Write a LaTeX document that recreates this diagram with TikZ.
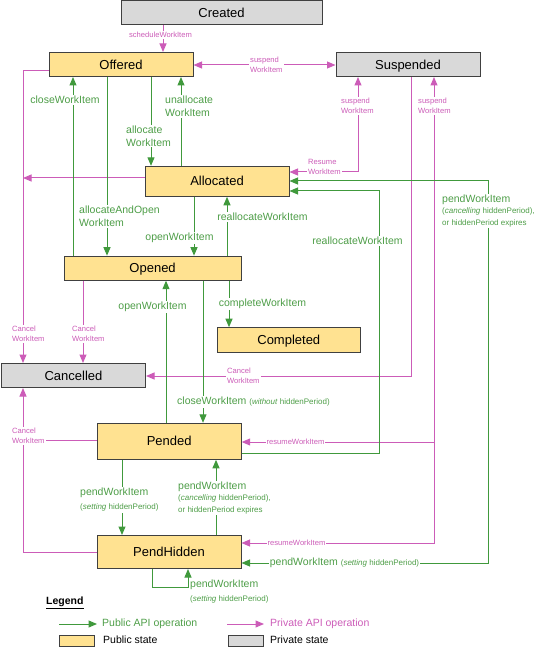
\documentclass[tikz,border=0pt]{standalone}
\usepackage{fontspec}
\setmainfont{Liberation Sans}
\usetikzlibrary{arrows.meta}
\definecolor{pubfill}{HTML}{FFE291}
\definecolor{privfill}{HTML}{D9D9D9}
\definecolor{grn}{HTML}{40993C}
\definecolor{grntxt}{HTML}{4E9E48}
\definecolor{pnk}{HTML}{CC5CB8}
\definecolor{bord}{HTML}{404040}
\begin{document}
\begin{tikzpicture}[x=1pt,y=-1pt,
  state/.style={draw=bord, line width=1pt, inner sep=0pt, text height=9.3pt, text depth=0pt, font=\fontsize{13}{15}\selectfont},
  pubstate/.style={state, fill=pubfill},
  privstate/.style={state, fill=privfill},
  tip/.tip={Triangle[length=8.5pt,width=7pt]},
  publine/.style={draw=grn, line width=1pt},
  pub/.style={publine, -tip},
  pubtwo/.style={publine, tip-tip},
  privline/.style={draw=pnk, line width=1pt},
  priv/.style={privline, -tip},
  privtwo/.style={privline, tip-tip},
  publbl/.style={text=grntxt, fill=white, inner sep=1pt, font=\fontsize{10.5}{13}\selectfont, align=left},
  privlbl/.style={text=pnk, fill=white, inner sep=1pt, font=\fontsize{7.6}{10}\selectfont, align=left}
]
\useasboundingbox (0,0) rectangle (542,652);

% states
\node[privstate, minimum width=201pt, minimum height=24pt] (created) at (221.5,13) {Created};
\node[pubstate, minimum width=144pt, minimum height=24pt] (offered) at (121,64.5) {Offered};
\node[privstate, minimum width=144pt, minimum height=24pt] (suspended) at (408,64.5) {Suspended};
\node[pubstate, minimum width=144pt, minimum height=30pt] (allocated) at (217,181.3) {Allocated};
\node[pubstate, minimum width=177pt, minimum height=24pt] (opened) at (152.6,268.2) {Opened};
\node[pubstate, minimum width=143pt, minimum height=25pt] (completed) at (288.8,340.2) {Completed};
\node[privstate, minimum width=144pt, minimum height=24pt] (cancelled) at (73.5,375.5) {Cancelled};
\node[pubstate, minimum width=144pt, minimum height=36pt] (pended) at (169.2,441.3) {Pended};
\node[pubstate, minimum width=144pt, minimum height=33pt] (pendhidden) at (169,552) {PendHidden};

% helper coordinates
\foreach \v in {23,73,83,107,122,151,152,163,166,181,188,194,203,216,227,229,358,379,411,434,488}
  \coordinate (x\v) at (\v,0);
\foreach \v in {65,71,172,178,181,191,376,440,442,453,543,552,563,587}
  \coordinate (y\v) at (0,\v);

% private (pink) connectors
\draw[priv] (created.south -| x163) -- (offered.north -| x163);
\draw[privtwo] (offered.east |- y65) -- (suspended.west |- y65);
\draw[priv] (offered.west |- y71) -- (x23 |- y71) -- (cancelled.north -| x23);
\draw[priv] (allocated.west |- y178) -- (x23 |- y178);
\draw[priv] (opened.south -| x83) -- (cancelled.north -| x83);
\draw[privtwo] (allocated.east |- y172) -- (x358 |- y172) -- (suspended.south -| x358);
\draw[privtwo] (pended.east |- y442) -- (x434 |- y442) -- (suspended.south -| x434);
\draw[priv] (x434 |- y442) -- (x434 |- y543) -- (pendhidden.east |- y543);
\draw[priv] (suspended.south -| x411) -- (x411 |- y376) -- (cancelled.east |- y376);
\draw[priv] (pendhidden.west |- y552) -- (x23 |- y552) -- (cancelled.south -| x23);
\draw[privline] (pended.west |- y440) -- (x23 |- y440);

% public (green) connectors
\draw[pub] (opened.north -| x73) -- (offered.south -| x73);
\draw[pub] (offered.south -| x107) -- (opened.north -| x107);
\draw[pub] (offered.south -| x151) -- (allocated.north -| x151);
\draw[pub] (allocated.north -| x181) -- (offered.south -| x181);
\draw[pub] (allocated.south -| x194) -- (opened.north -| x194);
\draw[pub] (opened.north -| x227) -- (allocated.south -| x227);
\draw[pub] (opened.south -| x229) -- (completed.north -| x229);
\draw[pub] (pended.north -| x166) -- (opened.south -| x166);
\draw[pub] (opened.south -| x203) -- (pended.north -| x203);
\draw[pub] (pended.east |- y453) -- (x379 |- y453) -- (x379 |- y191) -- (allocated.east |- y191);
\draw[pubtwo] (allocated.east |- y181) -- (x488 |- y181) -- (x488 |- y563) -- (pendhidden.east |- y563);
\draw[pub] (pended.south -| x122) -- (pendhidden.north -| x122);
\draw[pub] (pendhidden.north -| x216) -- (pended.south -| x216);
\draw[pub] (pendhidden.south -| x152) -- (x152 |- y587) -- (x188 |- y587) -- (pendhidden.south -| x188);

% private labels
\node[privlbl] (lsched) at (160.5,35) {scheduleWorkItem};
\node[privlbl, anchor=west] (lsusp1) at (249,65) {suspend\\WorkItem};
\node[privlbl, anchor=west] (lsusp2) at (340,106) {suspend\\WorkItem};
\node[privlbl, anchor=west] (lres) at (307,167) {Resume\\WorkItem};
\node[privlbl, anchor=west] (lsusp3) at (417,106) {suspend\\WorkItem};
\node[privlbl, anchor=west] (lcan1) at (11,334) {Cancel\\WorkItem};
\node[privlbl, anchor=west] (lcan2) at (71,334) {Cancel\\WorkItem};
\node[privlbl, anchor=west] (lcan3) at (226,376) {Cancel\\WorkItem};
\node[privlbl, anchor=west] (lcan4) at (11,436) {Cancel\\WorkItem};
\node[privlbl] (lres2) at (295.5,442) {resumeWorkItem};
\node[privlbl] (lres3) at (296.5,543) {resumeWorkItem};

% public labels
\node[publbl] (lclose) at (65,100) {closeWorkItem};
\node[publbl, anchor=west] (lunal) at (164,106.5) {unallocate\\WorkItem};
\node[publbl, anchor=west] (lalloc) at (125,136) {allocate\\WorkItem};
\node[publbl, anchor=west] (lallop) at (78,216.5) {allocateAndOpen\\WorkItem};
\node[publbl] (lopen) at (179.5,238) {openWorkItem};
\node[publbl] (lrealloc) at (262.5,217) {reallocateWorkItem};
\node[publbl] (lrealloc2) at (357.5,241) {reallocateWorkItem};
\node[publbl, anchor=west, font=\fontsize{10.5}{11.5}\selectfont] (lpendr) at (441,211)
  {pendWorkItem\\{\fontsize{8}{10}\selectfont(\textit{cancelling} hiddenPeriod),}\\{\fontsize{8}{10}\selectfont or hiddenPeriod expires}};
\node[publbl] (lopen2) at (152.5,307) {openWorkItem};
\node[publbl] (lcomplete) at (262.5,304) {completeWorkItem};
\node[publbl, anchor=west] (lclose2) at (176,402) {closeWorkItem {\fontsize{8}{10}\selectfont(\textit{without} hiddenPeriod)}};
\node[publbl, anchor=west, font=\fontsize{10.5}{14}\selectfont] (lpend1) at (79,500)
  {pendWorkItem\\{\fontsize{8}{10}\selectfont(\textit{setting} hiddenPeriod)}};
\node[publbl, anchor=west, font=\fontsize{10.5}{11.5}\selectfont] (lpend2) at (177,498)
  {pendWorkItem\\{\fontsize{8}{10}\selectfont(\textit{cancelling} hiddenPeriod),}\\{\fontsize{8}{10}\selectfont or hiddenPeriod expires}};
\node[publbl] (lpend3) at (344.5,563) {pendWorkItem {\fontsize{8}{10}\selectfont(\textit{setting} hiddenPeriod)}};
\node[publbl, fill=none, anchor=west, font=\fontsize{10.5}{14}\selectfont] (lpend4) at (189,592)
  {pendWorkItem\\{\fontsize{8}{10}\selectfont(\textit{setting} hiddenPeriod)}};

% legend
\node[anchor=west, inner sep=0pt, font=\bfseries\fontsize{10.5}{12}\selectfont] (legend) at (46,603) {\underline{Legend}};
\coordinate (lga) at (59,624);
\coordinate (lgb) at (97,624);
\coordinate (lgc) at (227,624);
\coordinate (lgd) at (264,624);
\draw[pub] (lga) -- (lgb);
\draw[priv] (lgc) -- (lgd);
\node[anchor=west, inner sep=0pt, text=grntxt, font=\fontsize{10.5}{12}\selectfont] (lgpub) at (102,624) {Public API operation};
\node[anchor=west, inner sep=0pt, text=pnk, font=\fontsize{10.5}{12}\selectfont] (lgpriv) at (270,624) {Private API operation};
\node[pubstate, line width=0.9pt, minimum width=35pt, minimum height=11pt] (lgbox1) at (76.5,640.5) {};
\node[privstate, line width=0.9pt, minimum width=35pt, minimum height=11pt] (lgbox2) at (245.5,640.5) {};
\node[anchor=west, inner sep=0pt, font=\fontsize{10.5}{12}\selectfont] (lgpubs) at (103,639.5) {Public state};
\node[anchor=west, inner sep=0pt, font=\fontsize{10.5}{12}\selectfont] (lgprivs) at (270,639.5) {Private state};
\end{tikzpicture}
\end{document}
